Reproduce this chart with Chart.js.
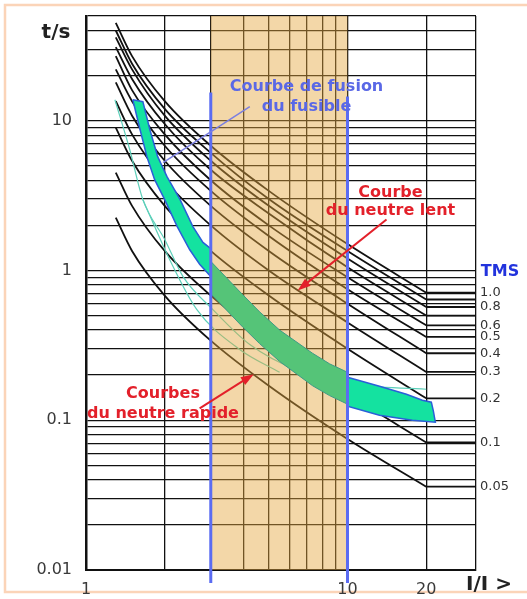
<!DOCTYPE html>
<html>
<head>
<meta charset="utf-8">
<script src="https://cdn.jsdelivr.net/npm/chart.js@4.4.1/dist/chart.umd.min.js"></script>
<style>
  html, body { margin: 0; padding: 0; background: #fff; }
  #cadre { width: 527px; height: 599px; position: relative; }
</style>
</head>
<body>
<div id="cadre"><canvas id="grafico"></canvas></div>
<script>
const tmsValeurs = [1.0, 0.9, 0.8, 0.7, 0.6, 0.5, 0.4, 0.3, 0.2, 0.1, 0.05];
const tmsTextes = ['1.0', '', '0.8', '', '0.6', '0.5', '0.4', '0.3', '0.2', '0.1', '0.05'];
const courantI = [1.3, 1.5, 2, 3, 5, 10, 20];
const courbesT = [
  [45, 27, 13.5, 6.8, 3.4, 1.5, 0.71],
  [40, 24, 12, 6.1, 3.0, 1.35, 0.64],
  [36, 22, 10.8, 5.4, 2.7, 1.2, 0.57],
  [31, 19, 9.5, 4.7, 2.4, 1.05, 0.50],
  [27, 16, 8.1, 4.0, 2.0, 0.90, 0.43],
  [22, 13.5, 6.8, 3.4, 1.7, 0.75, 0.36],
  [18, 10.8, 5.4, 2.7, 1.35, 0.60, 0.28],
  [13.5, 8.1, 4.0, 2.0, 1.0, 0.45, 0.21],
  [9, 5.4, 2.7, 1.35, 0.68, 0.30, 0.14],
  [4.5, 2.7, 1.35, 0.68, 0.34, 0.15, 0.071],
  [2.25, 1.35, 0.68, 0.34, 0.17, 0.075, 0.036]
];
const palierI = [20, 31];

// Bande de fusion du fusible (contours, I/I> puis t)
const fusionA = [[1.51, 13.8], [1.65, 13.4], [1.755, 8.7], [1.88, 5.75], [2.04, 4.23], [2.29, 2.97],
  [2.56, 1.97], [2.8, 1.54], [3, 1.40], [3, 0.91], [2.72, 1.10], [2.49, 1.38], [2.23, 1.97],
  [2.0, 2.97], [1.83, 4.04], [1.71, 5.75], [1.61, 8.7]];
const fusionB = [[3, 1.15], [3.97, 0.69], [4.61, 0.53], [5.5, 0.40], [7.35, 0.28], [8.54, 0.238], [10, 0.209],
  [10, 0.128], [8.54, 0.146], [7.35, 0.170], [5.5, 0.247], [4.61, 0.325], [3.97, 0.42], [3, 0.70]];
const fusionC = [[10, 0.1935], [13.25, 0.1685], [16.8, 0.149], [19.33, 0.136], [20.92, 0.132], [21.3, 0.115],
  [21.67, 0.097], [17.7, 0.100], [13.25, 0.108], [10, 0.124]];

// Courbes fines turquoise
const claireI = [1.29, 1.47, 1.65, 2.0, 2.35, 3.05, 4.23, 6.56, 10.2, 20];
const claireT = [13.8, 6.4, 2.97, 1.61, 0.91, 0.55, 0.32, 0.212, 0.174, 0.161];
const claire2I = [1.65, 2.09, 2.65, 3.87, 5.5];
const claire2T = [2.97, 1.18, 0.55, 0.297, 0.209];

// Limites verticales bleues et zone beige
const limitesI = [3, 10];
const limitesHaut = [15.4, 14.5];
const limiteBas = 0.0082;
const zoneI = [3, 10];

// Grilles et graduations
const xGrille = [1, 2, 3, 4, 5, 6, 7, 8, 9, 10, 20, 31];
const xTextes = [1, 10, 20];
const yGrille = [0.01, 0.02, 0.03, 0.04, 0.05, 0.06, 0.07, 0.08, 0.09,
  0.1, 0.2, 0.3, 0.4, 0.5, 0.6, 0.7, 0.8, 0.9,
  1, 2, 3, 4, 5, 6, 7, 8, 9, 10, 20, 30, 40, 50];
const yTextes = [0.01, 0.1, 1, 10];

// Annotations (coordonnées en I/I> et t)
const traitFusion = [[4.23, 12.4], [1.97, 5.25]];
const flecheLent = [[14.1, 2.19], [6.45, 0.736]];
const flecheRapide = [[2.72, 0.12], [4.38, 0.203]];
const notes = [
  { lignes: ['Courbe de fusion', 'du fusible'], I: 6.97, t: [16.9, 12.4], couleur: '#5a68e6' },
  { lignes: ['Courbe', 'du neutre lent'], I: 14.6, t: [3.31, 2.51], couleur: '#e3202a' },
  { lignes: ['Courbes', 'du neutre rapide'], I: 1.97, t: [0.149, 0.111], couleur: '#e3202a' }
];

const paires = p => p.concat([p[0]]).map(([x, y]) => ({ x, y }));

const datasets = [];
// au-dessus de la zone beige
limitesI.forEach((xv, k) => datasets.push({
  data: [{ x: xv, y: limitesHaut[k] }, { x: xv, y: limiteBas }],
  borderColor: '#5b6cf2', borderWidth: 3, clip: false, dessus: true
}));
datasets.push({
  data: paires(fusionB), fill: 'shape', backgroundColor: '#55c478',
  borderColor: '#3f9a86', borderWidth: 1, dessus: true
});
// bande du fusible (parties sur fond blanc)
[fusionA, fusionC].forEach(p => datasets.push({
  data: paires(p), fill: 'shape', backgroundColor: '#14e2a0',
  borderColor: '#2a5fd8', borderWidth: 1.5
}));
// courbes fines
datasets.push({
  data: claireI.map((x, i) => ({ x, y: claireT[i] })),
  borderColor: '#5ccfb9', borderWidth: 1.2, cubicInterpolationMode: 'monotone'
});
datasets.push({
  data: claire2I.map((x, i) => ({ x, y: claire2T[i] })),
  borderColor: '#5ccfb9', borderWidth: 1.2, cubicInterpolationMode: 'monotone'
});
// courbes TMS + paliers
courbesT.forEach(serie => {
  datasets.push({
    data: courantI.map((x, i) => ({ x, y: serie[i] })),
    borderColor: '#111', borderWidth: 1.8, cubicInterpolationMode: 'monotone'
  });
  datasets.push({
    data: palierI.map(x => ({ x, y: serie[serie.length - 1] })),
    borderColor: '#111', borderWidth: 1.8
  });
});
datasets.forEach(d => { d.showLine = true; d.pointRadius = 0; });

function zoneBeige(chart) {
  const { ctx, chartArea: a, scales: { x } } = chart;
  const x1 = x.getPixelForValue(zoneI[0]), x2 = x.getPixelForValue(zoneI[1]);
  ctx.save();
  ctx.fillStyle = 'rgba(228,166,62,0.45)';
  ctx.fillRect(x1, a.top, x2 - x1, a.bottom - a.top);
  ctx.restore();
}

function fleche(ctx, x1, y1, x2, y2, couleur) {
  const ang = Math.atan2(y2 - y1, x2 - x1);
  ctx.strokeStyle = couleur; ctx.fillStyle = couleur; ctx.lineWidth = 2;
  ctx.beginPath(); ctx.moveTo(x1, y1);
  ctx.lineTo(x2 - 8 * Math.cos(ang), y2 - 8 * Math.sin(ang)); ctx.stroke();
  ctx.beginPath();
  ctx.moveTo(x2, y2);
  ctx.lineTo(x2 - 13 * Math.cos(ang) + 4.5 * Math.sin(ang), y2 - 13 * Math.sin(ang) - 4.5 * Math.cos(ang));
  ctx.lineTo(x2 - 13 * Math.cos(ang) - 4.5 * Math.sin(ang), y2 - 13 * Math.sin(ang) + 4.5 * Math.cos(ang));
  ctx.closePath(); ctx.fill();
}

const decor = {
  id: 'decor',
  beforeDraw(chart) {
    const ctx = chart.ctx;
    ctx.save();
    ctx.fillStyle = '#fff';
    ctx.fillRect(0, 0, chart.width, chart.height);
    ctx.strokeStyle = '#fbd4b8';
    ctx.lineWidth = 2.5;
    ctx.strokeRect(5, 5, chart.width + 10, chart.height - 12);
    ctx.restore();
  },
  // la zone beige passe sur tout ce qui est dessous, juste avant les jeux "dessus"
  afterDatasetDraw(chart, args) {
    const ds = chart.data.datasets;
    const suivant = ds[args.index - 1];
    if (!ds[args.index].dessus && suivant && suivant.dessus) zoneBeige(chart);
  },
  afterDatasetsDraw(chart) {
    const { ctx, chartArea: a, scales: { x, y } } = chart;
    const px = p => [x.getPixelForValue(p[0]), y.getPixelForValue(p[1])];
    ctx.save();
    // trait vers la bande du fusible
    const [f1, f2] = traitFusion.map(px);
    ctx.strokeStyle = '#7b7fe0'; ctx.lineWidth = 1.5;
    ctx.beginPath(); ctx.moveTo(f1[0], f1[1]); ctx.lineTo(f2[0], f2[1]); ctx.stroke();
    // flèches rouges
    [flecheLent, flecheRapide].forEach(f => {
      const [p1, p2] = f.map(px);
      fleche(ctx, p1[0], p1[1], p2[0], p2[1], '#e3202a');
    });
    // textes
    ctx.textAlign = 'center'; ctx.textBaseline = 'middle';
    ctx.font = 'bold 16px "DejaVu Sans"';
    notes.forEach(n => {
      ctx.fillStyle = n.couleur;
      n.lignes.forEach((l, i) => ctx.fillText(l, x.getPixelForValue(n.I), y.getPixelForValue(n.t[i])));
    });
    // titres des axes
    ctx.fillStyle = '#222';
    ctx.font = 'bold 20px "DejaVu Sans"';
    ctx.fillText('t/s', a.left - 30, a.top + 17);
    ctx.fillText('I/I >', a.right + 13, a.bottom + 15);
    ctx.fillStyle = '#2233dd';
    ctx.font = 'bold 16px "DejaVu Sans"';
    ctx.fillText('TMS', a.right + 24, y.getPixelForValue(1) + 1);
    // étiquettes TMS
    ctx.textAlign = 'left';
    ctx.fillStyle = '#333';
    ctx.font = '13px "DejaVu Sans"';
    courbesT.forEach((serie, k) => {
      if (tmsTextes[k]) ctx.fillText(tmsTextes[k], a.right + 4, y.getPixelForValue(serie[serie.length - 1]));
    });
    ctx.restore();
  }
};

new Chart(document.getElementById('grafico'), {
  type: 'scatter',
  data: { datasets },
  options: {
    responsive: true,
    maintainAspectRatio: false,
    animation: false,
    layout: { padding: { left: 0, top: 16, right: 51, bottom: 0 } },
    plugins: { legend: { display: false }, tooltip: { enabled: false } },
    elements: { line: { tension: 0 } },
    scales: {
      x: {
        type: 'logarithmic', min: 1, max: 31,
        afterBuildTicks: s => { s.ticks = xGrille.map(v => ({ value: v })); },
        afterFit: s => { s.height = 29; s.paddingLeft = 0; s.paddingRight = 0; },
        grid: { color: '#111', lineWidth: 1.3, drawTicks: false },
        border: { color: '#111', width: 2 },
        ticks: {
          autoSkip: false, maxRotation: 0, padding: 10, color: '#3a3a3a',
          font: { family: 'DejaVu Sans', size: 16 },
          callback: v => xTextes.includes(v) ? String(v) : ''
        }
      },
      y: {
        type: 'logarithmic', min: 0.01, max: 50,
        afterBuildTicks: s => { s.ticks = yGrille.map(v => ({ value: v })); },
        afterFit: s => { s.width = 86; s.paddingTop = 0; s.paddingBottom = 0; },
        grid: { color: '#111', lineWidth: 1.3, drawTicks: false },
        border: { color: '#111', width: 2.5 },
        ticks: {
          autoSkip: false, padding: 14, color: '#3a3a3a',
          font: { family: 'DejaVu Sans', size: 16 },
          callback: v => yTextes.includes(v) ? String(v) : ''
        }
      }
    }
  },
  plugins: [decor]
});
</script>
</body>
</html>
